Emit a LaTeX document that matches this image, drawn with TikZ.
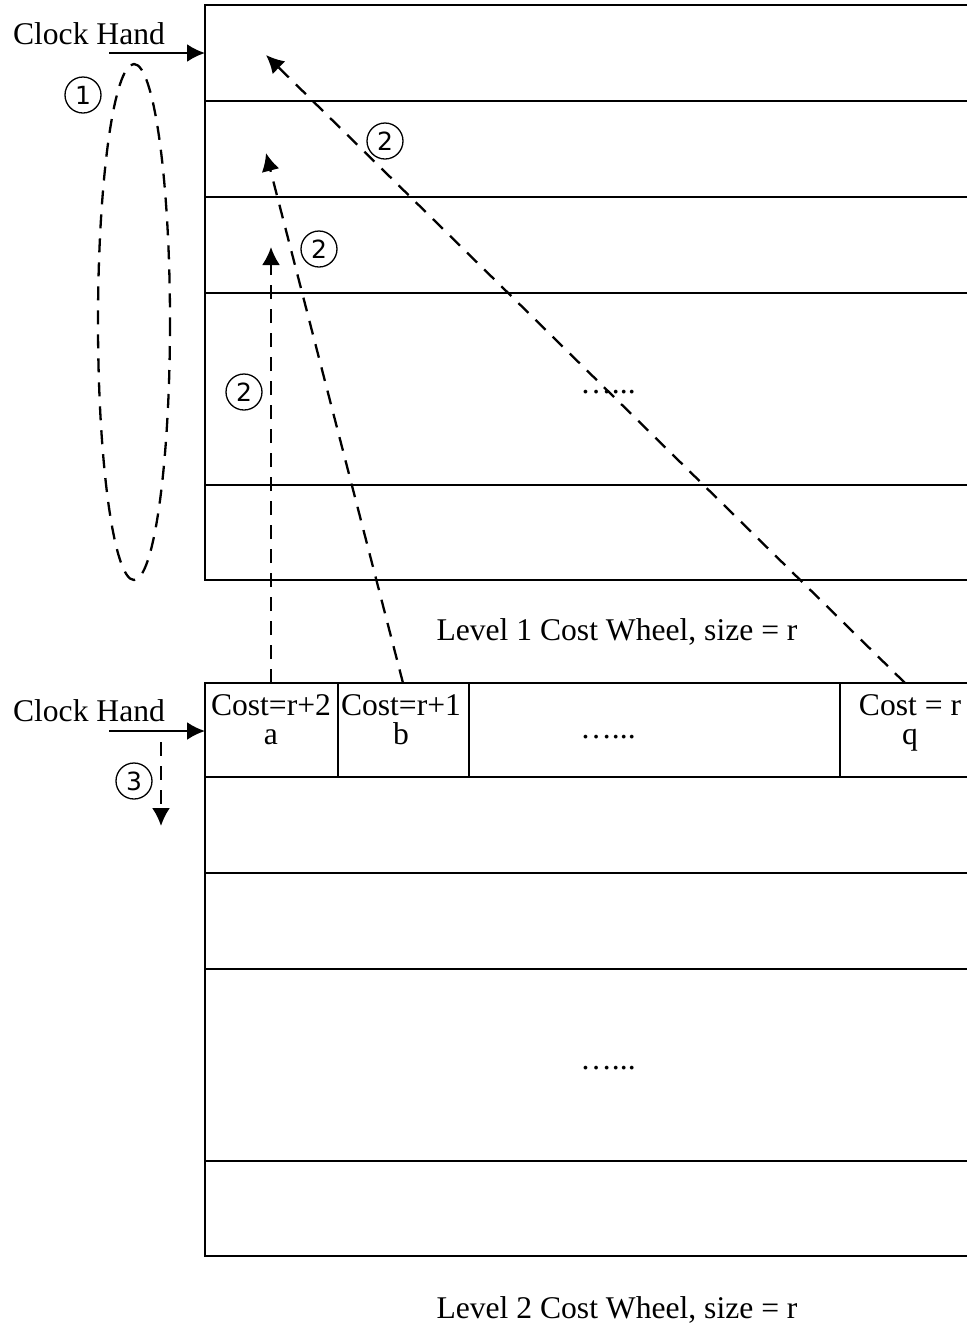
\documentclass[tikz,border=0pt]{standalone}
\usepackage{fontspec}
\setmainfont{Liberation Serif}
\newfontfamily\stepfont{DejaVu Sans}
\usetikzlibrary{positioning}
\usetikzlibrary{arrows.meta}

\tikzset{
    lbl/.style={font=\fontsize{15.8}{14.5}\selectfont},
    cell/.style={lbl, align=center, inner sep=0pt, anchor=north},
    stepnum/.style={circle, draw, line width=0.65pt, minimum size=18pt, inner sep=0pt,
        font=\stepfont\fontsize{12.5}{12.5}\selectfont},
    hand/.style={->, line width=1.2pt},
    jump/.style={->, line width=1.15pt, dash pattern=on 7pt off 5pt},
}

\begin{document}
\begin{tikzpicture}[x=0.5pt, y=-0.5pt, line width=1.3pt, >={Latex[length=9pt,width=9pt]}]
    \useasboundingbox (0,0) rectangle (967,1330);

    % level 1 wheel
    \draw (967,5) -- (205,5) -- (205,580) -- (967,580);
    \foreach \y in {101,197,293,485}
        \draw (205,\y) -- (967,\y);
    \node[lbl, anchor=base] (dots1) at (608,393) {…...};
    \node[lbl, anchor=base] (title1) at (617,640) {Level 1 Cost Wheel, size = r};

    % level 2 wheel
    \draw (967,683) -- (205,683) -- (205,1256) -- (967,1256);
    \foreach \y in {777,873,969,1161}
        \draw (205,\y) -- (967,\y);
    \foreach \x in {338,469,840}
        \draw (\x,683) -- (\x,777);
    \node[cell] (ca) at (271,693) {Cost=r+2\\a};
    \node[cell] (cb) at (401,693) {Cost=r+1\\b};
    \node[lbl, anchor=base] (dots2) at (608,738) {…...};
    \node[cell] (cq) at (910,693) {Cost = r\\q};
    \node[lbl, anchor=base] (dots3) at (608,1069) {…...};
    \node[lbl, anchor=base] (title2) at (617,1318) {Level 2 Cost Wheel, size = r};

    % clock hands
    \node[lbl, anchor=base] (hand1) at (89,44) {Clock Hand};
    \node[lbl, anchor=base] (hand2) at (89,721) {Clock Hand};
    \coordinate (h1tail) at (109,53);
    \coordinate (h1tip) at (205,53);
    \coordinate (h2tail) at (109,731);
    \coordinate (h2tip) at (205,731);
    \draw[hand] (h1tail) -- (h1tip);
    \draw[hand] (h2tail) -- (h2tip);

    % step 1: sweep of the level 1 hand
    \draw[line width=1.15pt, dash pattern=on 7pt off 5pt] (134,322) ellipse [x radius=36, y radius=258];
    \node[stepnum] (n1) at (83,95) {1};

    % step 2: cascade of slot entries up to level 1
    \coordinate (ta) at (271,683);
    \coordinate (tb) at (403,683);
    \coordinate (tq) at (905,683);
    \coordinate (sa) at (271,247);
    \coordinate (sb) at (266,153);
    \coordinate (sq) at (266,55);
    \draw[jump] (ta) -- (sa);
    \draw[jump] (tb) -- (sb);
    \draw[jump] (tq) -- (sq);
    \node[stepnum] (n2a) at (244,392) {2};
    \node[stepnum] (n2b) at (319,249) {2};
    \node[stepnum] (n2q) at (385,141) {2};

    % step 3: level 2 hand moves on
    \coordinate (t3) at (161,742);
    \coordinate (s3) at (161,826);
    \draw[jump] (t3) -- (s3);
    \node[stepnum] (n3) at (134,781) {3};
\end{tikzpicture}
\end{document}
